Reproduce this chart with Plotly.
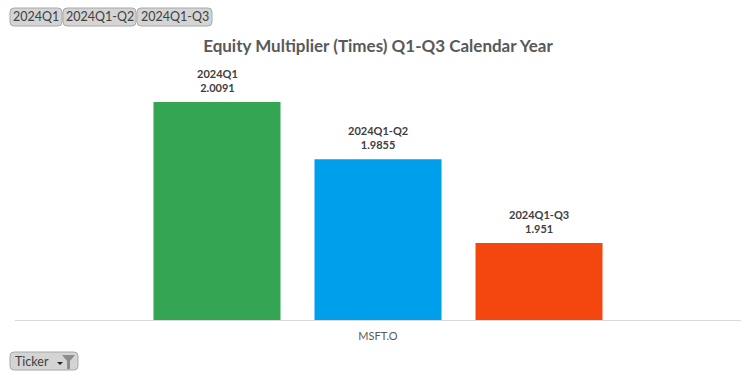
import plotly.graph_objects as go

categories = ["MSFT.O"]
periods = ["2024Q1", "2024Q1-Q2", "2024Q1-Q3"]
values = [2.0091, 1.9855, 1.951]
colors = ["#33A553", "#009FEC", "#F4470F"]
title = "Equity Multiplier (Times) Q1-Q3 Calendar Year"
filter_field = "Ticker"

# layout geometry (pixels)
L, R, T, B = 15, 15, 76, 58
W, H = 756, 378
PW, PH = W - L - R, H - T - B


def px(x):
    return (x - L) / PW


def py(y):
    return (H - B - y) / PH


def rrect(x0, y0, x1, y1, r=4):
    return (f"M {px(x0 + r)} {py(y0)} L {px(x1 - r)} {py(y0)} Q {px(x1)} {py(y0)} {px(x1)} {py(y0 + r)} "
            f"L {px(x1)} {py(y1 - r)} Q {px(x1)} {py(y1)} {px(x1 - r)} {py(y1)} "
            f"L {px(x0 + r)} {py(y1)} Q {px(x0)} {py(y1)} {px(x0)} {py(y1 - r)} "
            f"L {px(x0)} {py(y0 + r)} Q {px(x0)} {py(y0)} {px(x0 + r)} {py(y0)} Z")


fig = go.Figure()
slot = 161
for i, (p, v, c) in enumerate(zip(periods, values, colors)):
    fig.add_trace(go.Bar(
        x=categories, y=[v], name=p, marker=dict(color=c, line=dict(width=0)),
        hoverinfo="skip",
    ))
    fig.add_annotation(x=categories[0], y=v, xref="x", yref="y", text=f"<b>{p}<br>{v}</b>",
                       showarrow=False, xanchor="center", yanchor="bottom",
                       xshift=(i - 1) * slot, yshift=6,
                       font=dict(family="Lato, Open Sans, sans-serif", size=11, color="#404040"))

fig.update_layout(
    width=W, height=H,
    margin=dict(l=L, r=R, t=T, b=B),
    paper_bgcolor="white", plot_bgcolor="white",
    barmode="group", bargap=0.3347, bargroupgap=0.211,
    showlegend=False,
    title=dict(text=f"<b>{title}</b>", x=0.5, xanchor="center", y=1 - 46 / H, yanchor="middle",
               font=dict(family="Lato, Open Sans, sans-serif", size=17, color="#595959")),
    xaxis=dict(showline=True, linecolor="#D9D9D9", linewidth=1, ticks="", showgrid=False,
               ticklabelstandoff=6,
               tickfont=dict(family="Lato, Open Sans, sans-serif", size=11, color="#595959")),
    yaxis=dict(range=[1.9193, 2.0198], visible=False, showgrid=False, zeroline=False),
)

btn_font = dict(family="Lato, Open Sans, sans-serif", size=12.5, color="#404040")

# pivot field buttons on top
btn_edges = [(10, 62), (63, 136), (137, 212)]
for (x0, x1), p in zip(btn_edges, periods):
    fig.add_shape(type="path", xref="paper", yref="paper", path=rrect(x0, 8, x1, 26),
                  fillcolor="#D4D4D4", line=dict(color="#A8A8A8", width=1), layer="above")
    fig.add_annotation(text=p, xref="paper", yref="paper", x=px((x0 + x1) / 2), y=py(17),
                       xanchor="center", yanchor="middle", showarrow=False, font=btn_font)

# Ticker filter button at bottom
fig.add_shape(type="path", xref="paper", yref="paper", path=rrect(10, 352, 78, 370),
              fillcolor="#D4D4D4", line=dict(color="#A8A8A8", width=1), layer="above")
fig.add_annotation(text=filter_field, xref="paper", yref="paper", x=px(13), y=py(361),
                   xanchor="left", yanchor="middle", showarrow=False, font=btn_font)
# dropdown arrow
fig.add_shape(type="path", xref="paper", yref="paper",
              path=f"M {px(57)} {py(362)} L {px(63)} {py(362)} L {px(60)} {py(365)} Z",
              fillcolor="#222222", line=dict(width=0), layer="above")
# funnel icon
fig.add_shape(type="path", xref="paper", yref="paper",
              path=(f"M {px(62)} {py(355)} L {px(75)} {py(355)} L {px(70)} {py(361)} "
                    f"L {px(70)} {py(369)} L {px(67)} {py(369)} L {px(67)} {py(361)} Z"),
              fillcolor="#8C8C8C", line=dict(width=0), layer="above")

fig.write_html("out.html", config={"displayModeBar": False},
               post_script="document.body.style.margin='0';")
